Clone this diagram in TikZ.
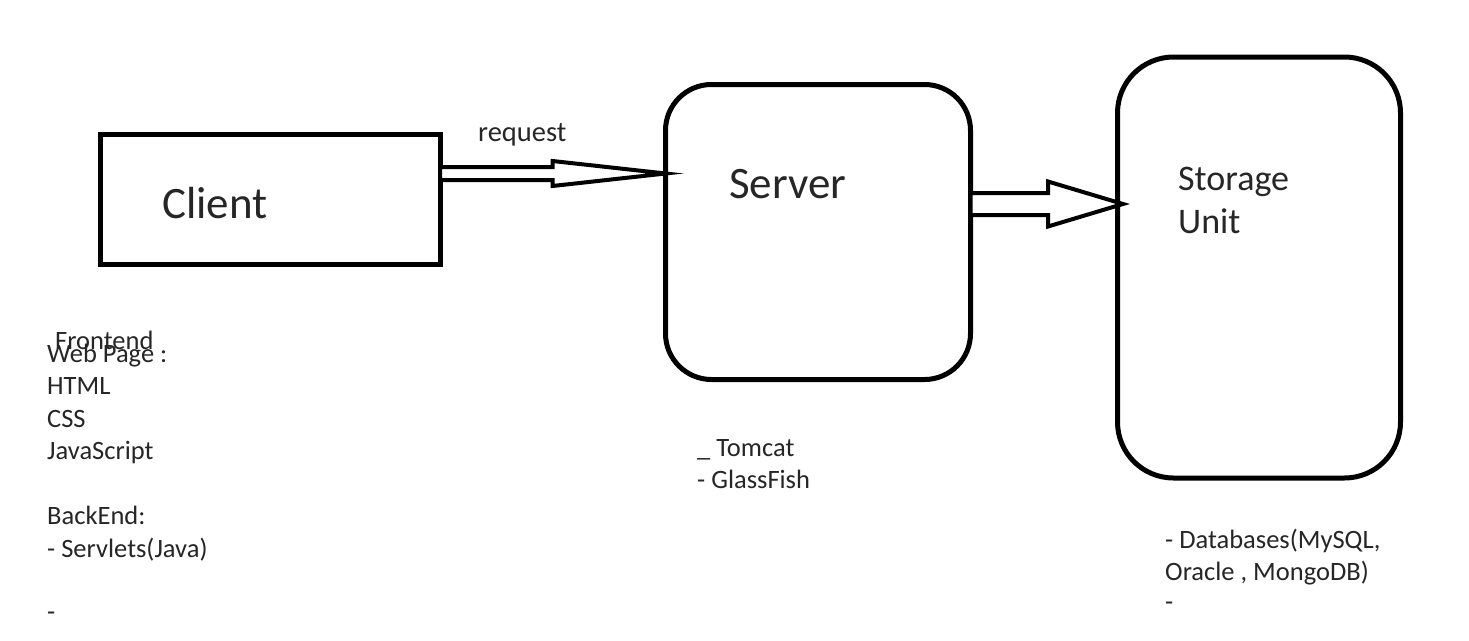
\documentclass[tikz,border=0pt]{standalone}
\usepackage{fontspec}
\setmainfont{Carlito}
\usetikzlibrary{calc}
\definecolor{textgray}{RGB}{38,38,38}
\tikzset{
  box/.style={draw, line width=5pt, inner sep=0pt, outer sep=0pt},
  roundbox/.style={box, rounded corners=#1},
  arrowline/.style={draw, line width=4pt, fill=white, line join=miter},
  boxtext/.style={anchor=base west, inner sep=0pt, text=textgray, font=\fontsize{45}{54}\selectfont},
  note/.style={anchor=base west, inner sep=0pt, text=textgray, font=\fontsize{26.5}{32}\selectfont}
}
% hollow block arrow: from, to, shaft half width, head half width, head length
\newcommand{\blockarrow}[5]{%
  \draw[arrowline] let \p1=(#1), \p2=(#2) in
    ({\x1},{\y1+#3}) -- ({\x2-#5},{\y1+#3}) -- ({\x2-#5},{\y1+#4}) -- ({\x2},{\y1})
    -- ({\x2-#5},{\y1-#4}) -- ({\x2-#5},{\y1-#3}) -- ({\x1},{\y1-#3}) -- cycle;}
\begin{document}
\begin{tikzpicture}[x=1pt,y=-1pt]
  \useasboundingbox[fill=white] (0,0) rectangle (1469,640);
  % boxes
  \node[box, minimum width=340pt, minimum height=130pt] (client) at (270,199) {};
  \node[roundbox=46pt, minimum width=305pt, minimum height=295pt] (server) at (818,232) {};
  \node[roundbox=56pt, minimum width=283pt, minimum height=421pt] (storage) at (1259,267.5) {};
  % box labels
  \node[boxtext] (clienttxt) at (162,218) {Client};
  \node[boxtext] (servertxt) at (729,198) {Server};
  \node[boxtext, font=\fontsize{36}{43}\selectfont] (storagetxt) at (1178,190) {Storage};
  \node[boxtext, font=\fontsize{36}{43}\selectfont] (unittxt) at (1178,233) {Unit};
  % arrows
  \coordinate (reqtail) at ([yshift=25.5pt]client.east);
  \coordinate (reqtip) at (server.west);
  \blockarrow{reqtail}{reqtip}{6.5pt}{12.5pt}{113pt}
  \node[note, font=\fontsize{28.5}{34}\selectfont] (reqtxt) at (478,141) {request};
  \coordinate (dbtail) at ([yshift=28pt]server.east);
  \coordinate (dbtip) at ([xshift=5.5pt]storage.west);
  \blockarrow{dbtail}{dbtip}{11pt}{22.5pt}{75pt}
  % notes under the client
  \node[note] (fronttxt) at (55,349) {Frontend};
  \foreach \y/\txt [count=\i] in {362/Web Page :, 394.5/HTML, 427/CSS, 459.5/JavaScript,
      524.5/BackEnd:, 557/- Servlets(Java), 620/-} {
    \node[note] (clientnote\i) at (47,\y) {\txt};
  }
  % notes under the server
  \foreach \y/\txt [count=\i] in {456.5/\_ Tomcat, 488/- GlassFish} {
    \node[note] (servernote\i) at (697,\y) {\txt};
  }
  % notes under the storage unit
  \foreach \y/\txt [count=\i] in {548/{- Databases(MySQL,}, 580/{Oracle , MongoDB)}, 610/-} {
    \node[note] (storagenote\i) at (1165,\y) {\txt};
  }
\end{tikzpicture}
\end{document}
